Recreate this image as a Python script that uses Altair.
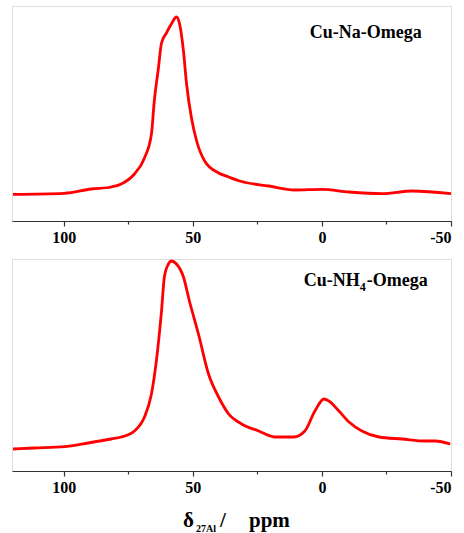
import altair as alt
import pandas as pd

# 27Al MAS NMR spectra, chemical shift (ppm) vs. signal height (arbitrary units)
na_ppm = [119.6, 99.8, 89.3, 81.6, 77.7, 72.6, 68.7, 66.0, 64.9, 63.3, 62.1,
          60.2, 58.3, 56.3, 55.1, 53.6, 52.4, 50.5, 48.5, 45.4, 40.0, 36.1,
          31.8, 20.6, 10.5, 0.0, -10.5, -23.3, -35.0, -50.0]
na_int = [26.7, 27.7, 32, 34, 37, 47, 63, 87, 120, 153, 178,
          188, 197, 204, 197, 170, 137, 103, 80, 60, 48, 44,
          40, 35, 31, 31.7, 29, 27.3, 30, 27.3]

nh4_ppm = [119.6, 111.5, 99.8, 90.5, 81.6, 77.7, 72.6, 68.7, 66.0, 64.1, 62.1,
           61.0, 59.4, 58.3, 56.3, 53.6, 51.3, 47.8, 43.9, 40.0, 36.1, 31.1,
           24.5, 18.3, 10.9, 6.6, 2.7, -0.8, -2.7, -6.6, -10.5, -15.5, -22.1,
           -31.1, -40.0, -43.9, -49.7]
nh4_int = [22, 23, 24.3, 28, 32, 34, 40, 54, 77, 110, 160,
           194, 207, 210, 207, 194, 170, 137, 97, 74, 57, 47,
           40, 34, 34, 40, 60, 72, 70, 60, 49, 40, 34,
           32, 30, 30, 27]

x_ticks = [100, 75, 50, 25, 0, -25, -50]

PLOT_W = 439
TOP_H = 215
BOT_H = 212
RED = "#FF0000"
SERIF = "Liberation Serif"

x_scale = alt.Scale(domain=[120, -50], nice=False, zero=False)
x_axis = alt.Axis(
    values=x_ticks,
    # labels only on multiples of 50, written with a plain hyphen for negatives
    labelExpr="datum.value % 50 === 0 ? '' + datum.value : ''",
    title=None,
    grid=False,
    domainColor="#333333",
    domainWidth=1.2,
    tickColor="#333333",
    tickWidth=1.2,
    tickSize={"condition": {"test": "datum.value % 50 !== 0", "value": 3}, "value": 5},
    labelFont=SERIF,
    labelFontSize=16,
    labelFontWeight="bold",
    labelColor="black",
    labelPadding=3,
)


def spectrum(ppm, inten, ymax, height):
    df = pd.DataFrame({"ppm": ppm, "intensity": inten})
    return alt.Chart(df).mark_line(
        color=RED, strokeWidth=2.8, interpolate="monotone", clip=True
    ).encode(
        x=alt.X("ppm:Q", scale=x_scale, axis=x_axis),
        y=alt.Y("intensity:Q", scale=alt.Scale(domain=[0, ymax], nice=False, zero=False), axis=None),
    ).properties(width=PLOT_W, height=height)


def label(text, ppm, inten, ymax, size=18, dx=0, dy=0):
    df = pd.DataFrame({"ppm": [ppm], "intensity": [inten], "t": [text]})
    return alt.Chart(df).mark_text(
        font=SERIF, fontSize=size, fontWeight="bold", color="black",
        align="left", baseline="alphabetic", dx=dx, dy=dy
    ).encode(
        x=alt.X("ppm:Q", scale=x_scale),
        y=alt.Y("intensity:Q", scale=alt.Scale(domain=[0, ymax], nice=False, zero=False)),
        text="t:N",
    )


def title_piece(text, px, py, size):
    df = pd.DataFrame({"t": [text]})
    return alt.Chart(df).mark_text(
        font=SERIF, fontSize=size, fontWeight="bold", color="black",
        align="left", baseline="alphabetic"
    ).encode(x=alt.value(px), y=alt.value(py), text="t:N")


top = alt.layer(
    spectrum(na_ppm, na_int, TOP_H, TOP_H),
    label("Cu-Na-Omega", 4.7, 183.5, TOP_H),
)

bottom = alt.layer(
    spectrum(nh4_ppm, nh4_int, BOT_H, BOT_H),
    label("Cu-NH", 7.0, 185, BOT_H),
    label("4", 7.0, 185, BOT_H, size=12, dx=56, dy=5),
    label("-Omega", 7.0, 185, BOT_H, dx=63),
    title_piece("δ", 171, BOT_H + 56, 21),
    title_piece("27Al", 184, BOT_H + 61, 10),
    title_piece("/", 208, BOT_H + 56, 21),
    title_piece("ppm", 237, BOT_H + 56, 21),
)

chart = alt.vconcat(top, bottom, spacing=12).properties(
    padding={"left": 11, "top": 5, "right": 0, "bottom": 0}
).configure_view(stroke=None).configure(background="white")

chart.save("out.html", embed_options={"renderer": "svg", "actions": False})
